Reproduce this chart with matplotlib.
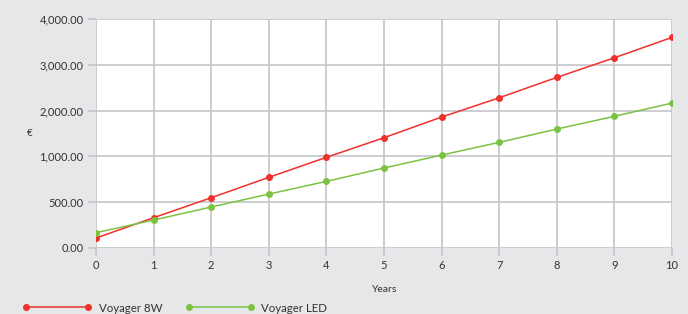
import matplotlib.pyplot as plt

years = list(range(11))
voyager_8w = [106, 328, 547, 770, 989, 1204, 1430, 1641, 1864, 2079, 2302]
voyager_led = [164, 303, 445, 587, 726, 872, 1014, 1153, 1299, 1438, 1583]
y_ticks = [0, 500, 1000, 1500, 2000, 2500]
y_tick_labels = ["0.00", "500.00", "1,000.00", "2,000.00", "3,000.00", "4,000.00"]

bg = "#e6e7e9"
grid_col = "#c4c5c8"
text_col = "#333333"
plt.rcParams['font.family'] = ['Lato', 'DejaVu Sans']

fig = plt.figure(figsize=(6.88, 3.14), dpi=100, facecolor=bg)
ax = fig.add_axes([96 / 688, 1 - 247.7 / 314, 576 / 688, 228.4 / 314])
ax.set_facecolor("white")

ax.plot(years, voyager_8w, color="#f2302b", lw=1.1, marker="o", ms=4, label="Voyager 8W", zorder=3)
ax.plot(years, voyager_led, color="#7cc242", lw=1.1, marker="o", ms=4, label="Voyager LED", zorder=3)

ax.set_xlim(0, 10)
ax.set_ylim(0, 2500)
ax.set_xticks(years)
ax.set_yticks(y_ticks)
ax.set_yticklabels(y_tick_labels)
ax.grid(True, color=grid_col, lw=1.2)
ax.set_axisbelow(True)
for s in ax.spines.values():
    s.set_visible(False)
ax.tick_params(axis="both", colors=grid_col, labelcolor=text_col, labelsize=8, length=6, width=1.2, pad=3)

fig.text(30 / 688, 1 - 133 / 314, "€", fontsize=7, color=text_col, ha="center", va="center")
fig.text(385 / 688, 1 - 290 / 314, "Years", fontsize=7.5, color=text_col, ha="center", va="center")

fig.legend(loc="center left", bbox_to_anchor=(18 / 688, 1 - 308 / 314), ncol=2, frameon=False,
           numpoints=2, handlelength=6.0, fontsize=8.3, labelcolor=text_col, columnspacing=2.0,
           handletextpad=0.6, borderaxespad=0)

fig.savefig("out.png", dpi=100, facecolor=bg)
